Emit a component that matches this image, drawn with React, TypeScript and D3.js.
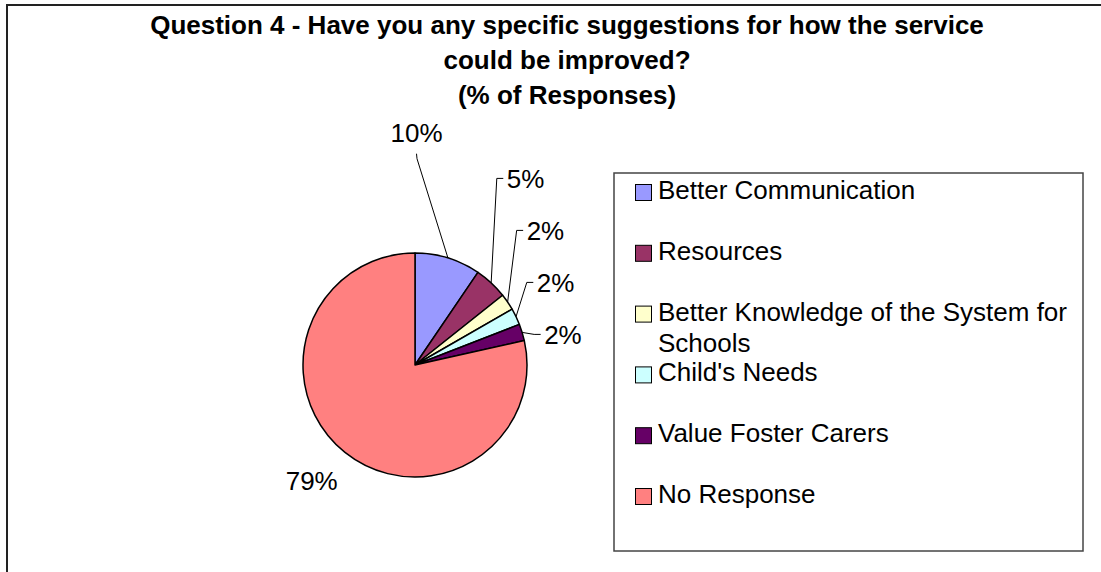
import React, { useMemo } from 'react';
import * as d3 from 'd3';

// ---- data ----
const categories = [
  'Better Communication',
  'Resources',
  'Better Knowledge of the System for Schools',
  "Child's Needs",
  'Value Foster Carers',
  'No Response',
];
const percentValues = [9.5, 4.8, 2.4, 2.4, 2.4, 78.5];
const sliceColors = ['#9999FF', '#993366', '#FFFFCC', '#CCFFFF', '#660066', '#FF8080'];
const titleLines = [
  'Question 4 - Have you any specific suggestions for how the service',
  'could be improved?',
  '(% of Responses)',
];

// ---- layout ----
const W = 1101;
const H = 572;
const FONT = '"Liberation Sans", Arial, Helvetica, sans-serif';
const FS = 26;
const CX = 415;
const CY = 365;
const R = 112;
const LABEL_R = 135;
const LABEL_STEP = 52;
const TOP_LABEL_STEP = 46;
const CAP_HALF = 9.3;
const TITLE_X = 567;
const TITLE_BASE = 34;
const TITLE_STEP = 34.8;
const LEG = { x: 614, y: 173, w: 469, h: 378 };
const LEG_FIRST = 26;
const LEG_STEP = 60.8;
const LEG_LINE = 31.7;
const LEG_SW_X = 635.5;
const LEG_TEXT_X = 658;
const LEG_MAX_W = 418;

const polar = (a: number, r: number): [number, number] => [CX + r * Math.sin(a), CY - r * Math.cos(a)];

function wrap(text: string, maxW: number): string[] {
  const c = document.createElement('canvas').getContext('2d');
  if (!c) return [text];
  c.font = `${FS}px "Liberation Sans", Arial, sans-serif`;
  const words = text.split(' ');
  const lines: string[] = [];
  let cur = '';
  for (const w of words) {
    const t = cur ? cur + ' ' + w : w;
    if (c.measureText(t).width > maxW && cur) {
      lines.push(cur);
      cur = w;
    } else cur = t;
  }
  if (cur) lines.push(cur);
  return lines;
}

export default function App() {
  const arcs = useMemo(
    () => d3.pie<number>().sort(null).startAngle(0).endAngle(2 * Math.PI)(percentValues),
    []
  );
  const arcGen = d3.arc<d3.PieArcDatum<number>>().innerRadius(0).outerRadius(R);
  const total = d3.sum(percentValues);

  type Lab = { text: string; x: number; cy: number; anchor: string; leader: string | null };
  const labels: Lab[] = [];
  const mids = arcs.map((a) => (a.startAngle + a.endAngle) / 2);
  const fmt = (v: number) => `${Math.round((v / total) * 100)}%`;
  const rightIdx = mids.map((m, i) => i).filter((i) => mids[i] < Math.PI / 2);
  const ys: Record<number, number> = {};
  let prev = Infinity;
  for (let k = rightIdx.length - 1; k >= 0; k--) {
    const i = rightIdx[k];
    const natural = polar(mids[i], R)[1] + 2;
    const isTop = mids[i] < (25 * Math.PI) / 180;
    const step = isTop ? TOP_LABEL_STEP : LABEL_STEP;
    const y = Math.min(natural, prev - step);
    ys[i] = y;
    prev = y;
  }
  arcs.forEach((a, i) => {
    const m = mids[i];
    const edge = polar(m, R);
    if (m < Math.PI / 2) {
      const isTop = m < (25 * Math.PI) / 180;
      const cyL = ys[i];
      if (isTop) {
        const base = cyL + CAP_HALF;
        const x = CX + 1.5;
        labels.push({
          text: fmt(a.data),
          x,
          cy: cyL,
          anchor: 'middle',
          leader: `M${x},${base + 12}L${x + 0.5},${base + 17}L${edge[0]},${edge[1]}`,
        });
      } else {
        const x = polar(m, LABEL_R)[0];
        labels.push({
          text: fmt(a.data),
          x,
          cy: cyL,
          anchor: 'start',
          leader: `M${edge[0]},${edge[1]}L${x - 10},${cyL}L${x - 3.5},${cyL}`,
        });
      }
    } else {
      const p = polar(m, R + 42);
      labels.push({ text: fmt(a.data), x: p[0] - 7, cy: p[1] - 4, anchor: 'middle', leader: null });
    }
  });

  const legendItems = useMemo(() => categories.map((c) => wrap(c, LEG_MAX_W)), []);

  return (
    <svg
      width={W}
      height={H}
      style={{ position: 'absolute', left: 0, top: 0, background: '#fff' }}
      fontFamily={FONT}
    >
      <rect x={0} y={0} width={W} height={H} fill="#fff" />
      <rect x={7} y={5} width={W + 50} height={H + 50} fill="none" stroke="#222" strokeWidth={2} />

      {titleLines.map((t, i) => (
        <text
          key={i}
          x={TITLE_X}
          y={TITLE_BASE + i * TITLE_STEP}
          textAnchor="middle"
          fontSize={FS}
          fontWeight="bold"
          fill="#000"
        >
          {t}
        </text>
      ))}

      <g>
        {arcs.map((a, i) => (
          <path
            key={i}
            d={arcGen(a) || ''}
            transform={`translate(${CX},${CY})`}
            fill={sliceColors[i]}
            stroke="#000"
            strokeWidth={1.5}
            strokeLinejoin="round"
          />
        ))}
      </g>

      <g>
        {labels.map((l, i) => (
          <g key={i}>
            {l.leader && <path d={l.leader} fill="none" stroke="#000" strokeWidth={1} />}
            <text x={l.x} y={l.cy + CAP_HALF} textAnchor={l.anchor} fontSize={FS} fill="#000">
              {l.text}
            </text>
          </g>
        ))}
      </g>

      <rect
        x={LEG.x}
        y={LEG.y}
        width={LEG.w}
        height={LEG.h}
        fill="#fff"
        stroke="#444"
        strokeWidth={1.5}
      />
      {legendItems.map((lines, i) => {
        const base = LEG.y + LEG_FIRST + i * LEG_STEP;
        return (
          <g key={i}>
            <rect
              x={LEG_SW_X}
              y={base - 14.5}
              width={16}
              height={16}
              fill={sliceColors[i]}
              stroke="#000"
              strokeWidth={1}
            />
            {lines.map((ln, j) => (
              <text key={j} x={LEG_TEXT_X} y={base + j * LEG_LINE} fontSize={FS} fill="#000">
                {ln}
              </text>
            ))}
          </g>
        );
      })}
    </svg>
  );
}
